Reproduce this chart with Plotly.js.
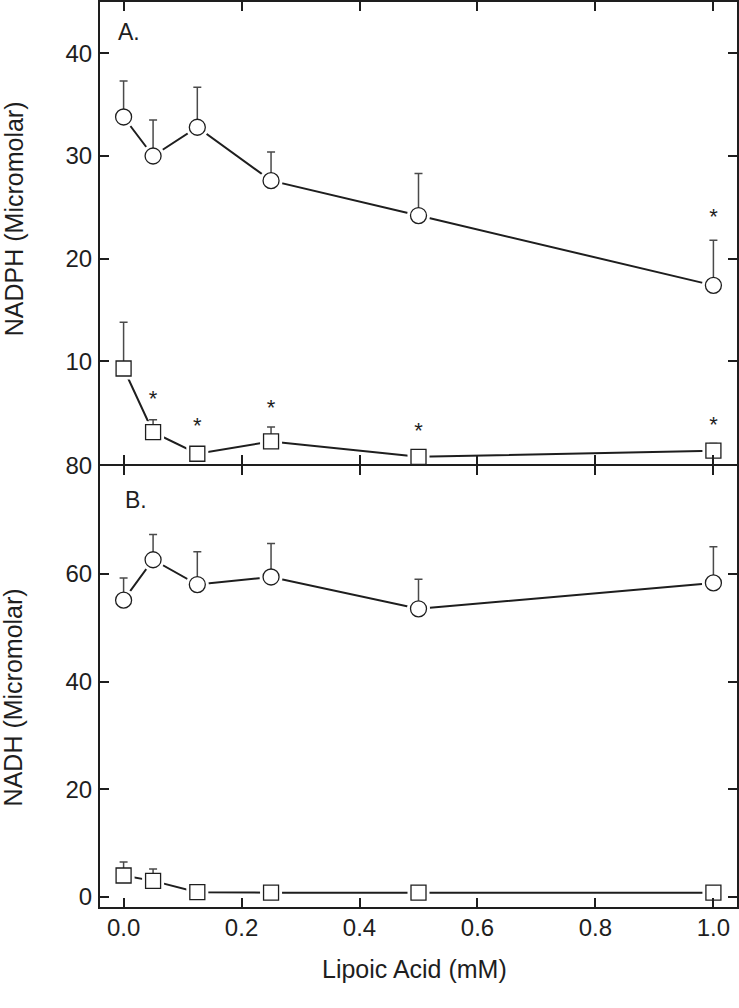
<!DOCTYPE html>
<html>
<head>
<meta charset="utf-8">
<script src="https://cdn.plot.ly/plotly-3.0.1.min.js"></script>
<style>html,body{margin:0;padding:0;background:#fff;}#chart{width:739px;height:1008px;}</style>
</head>
<body>
<div id="chart"></div>
<script>
// Lipoic acid concentrations (mM)
const lipoic = [0, 0.05, 0.125, 0.25, 0.5, 1.0];

// Panel A: NADPH (micromolar)
const nadphCircle = [33.8, 30.0, 32.8, 27.6, 24.2, 17.4];
const nadphCircleErr = [3.5, 3.5, 3.9, 2.8, 4.1, 4.4];
const nadphSquare = [9.3, 3.1, 1.0, 2.2, 0.7, 1.3];
const nadphSquareErr = [4.5, 1.2, 0.6, 1.4, 0.5, 0.7];

// Panel B: NADH (micromolar)
const nadhCircle = [55.1, 62.6, 58.0, 59.4, 53.5, 58.3];
const nadhCircleErr = [4.1, 4.7, 6.1, 6.2, 5.5, 6.7];
const nadhSquare = [4.0, 3.0, 0.9, 0.8, 0.8, 0.8];
const nadhSquareErr = [2.5, 2.2, 1.0, 1.1, 1.2, 1.2];

// Significance marks in panel A
const starX = [0.05, 0.125, 0.25, 0.5, 1.0, 1.0];
const starY = [6.2, 3.6, 5.3, 3.1, 3.7, 23.9];

const xTicks = [0, 0.2, 0.4, 0.6, 0.8, 1.0];
const xTickText = ['0.0', '0.2', '0.4', '0.6', '0.8', '1.0'];
const yTicksA = [10, 20, 30, 40];
const yTicksB = [0, 20, 40, 60, 80];

const INK = '#1e1e1e';
const ERR = '#4a4a4a';
const FAM = 'Liberation Sans, Arial, sans-serif';

function series(x, y, err, symbol, size, xa, ya) {
  return [
    {x: x, y: y, xaxis: xa, yaxis: ya, mode: 'lines', type: 'scatter',
     line: {color: INK, width: 2}, hoverinfo: 'skip', showlegend: false},
    {x: x, y: y, xaxis: xa, yaxis: ya, mode: 'markers', type: 'scatter',
     marker: {symbol: symbol, size: size + 7, color: '#ffffff', line: {width: 0}},
     hoverinfo: 'skip', showlegend: false},
    {x: x, y: y, xaxis: xa, yaxis: ya, mode: 'markers', type: 'scatter',
     marker: {symbol: symbol, size: size, color: '#ffffff', line: {color: INK, width: 1.3}},
     error_y: {type: 'data', symmetric: false, array: err, arrayminus: err.map(() => 0),
               color: ERR, thickness: 1.5, width: 4},
     showlegend: false}
  ];
}

const data = [].concat(
  series(lipoic, nadphCircle, nadphCircleErr, 'circle', 16, 'x2', 'y'),
  series(lipoic, nadphSquare, nadphSquareErr, 'square', 15, 'x2', 'y'),
  series(lipoic, nadhCircle, nadhCircleErr, 'circle', 16, 'x', 'y2'),
  series(lipoic, nadhSquare, nadhSquareErr, 'square', 15, 'x', 'y2'),
  [{x: starX, y: starY, xaxis: 'x2', yaxis: 'y', mode: 'text', type: 'scatter',
    text: starX.map(() => '*'), textposition: 'middle center',
    textfont: {family: FAM, size: 22, color: INK},
    hoverinfo: 'skip', showlegend: false}]
);

const axisCommon = {
  showline: true, linecolor: INK, linewidth: 2, mirror: 'ticks',
  ticks: 'inside', ticklen: 9, tickwidth: 2, tickcolor: INK,
  showgrid: false, zeroline: false,
  tickfont: {family: FAM, size: 24, color: INK}
};

const SPLIT = 0.4884;
const HALF = 1 / 905;

const layout = {
  width: 739, height: 1008,
  margin: {l: 100, r: 2, t: 2, b: 101},
  paper_bgcolor: '#ffffff', plot_bgcolor: '#ffffff',
  font: {family: FAM, color: INK},
  showlegend: false,
  xaxis: Object.assign({}, axisCommon, {
    anchor: 'y2', domain: [0, 1], range: [-0.04, 1.04],
    tickvals: xTicks, ticktext: xTickText, ticklabelstandoff: -2
  }),
  xaxis2: Object.assign({}, axisCommon, {
    anchor: 'y', matches: 'x', domain: [0, 1], range: [-0.04, 1.04],
    tickvals: xTicks, showticklabels: false
  }),
  yaxis: Object.assign({}, axisCommon, {
    anchor: 'x2', domain: [SPLIT + HALF, 1], range: [0, 45],
    tickvals: yTicksA, ticklabelstandoff: 1
  }),
  yaxis2: Object.assign({}, axisCommon, {
    anchor: 'x', domain: [0, SPLIT - HALF], range: [-1.85, 80],
    tickvals: yTicksB, ticklabelstandoff: 1
  }),
  annotations: [
    {text: 'NADPH (Micromolar)', xref: 'paper', yref: 'paper', x: -0.135, y: 0.760,
     xanchor: 'center', yanchor: 'middle', textangle: -90, showarrow: false,
     font: {family: FAM, size: 25, color: INK}},
    {text: 'NADH (Micromolar)', xref: 'paper', yref: 'paper', x: -0.136, y: 0.232,
     xanchor: 'center', yanchor: 'middle', textangle: -90, showarrow: false,
     font: {family: FAM, size: 25, color: INK}},
    {text: 'Lipoic Acid (mM)', xref: 'paper', yref: 'paper', x: 0.4945, y: -0.068,
     xanchor: 'center', yanchor: 'middle', showarrow: false,
     font: {family: FAM, size: 25, color: INK}},
    {text: 'A.', xref: 'paper', yref: 'paper', x: 0.0455, y: 0.967,
     xanchor: 'center', yanchor: 'middle', showarrow: false,
     font: {family: FAM, size: 23, color: INK}},
    {text: 'B.', xref: 'paper', yref: 'paper', x: 0.0565, y: 0.450,
     xanchor: 'center', yanchor: 'middle', showarrow: false,
     font: {family: FAM, size: 23, color: INK}}
  ]
};

Plotly.newPlot('chart', data, layout, {displayModeBar: false, staticPlot: true});
</script>
</body>
</html>
